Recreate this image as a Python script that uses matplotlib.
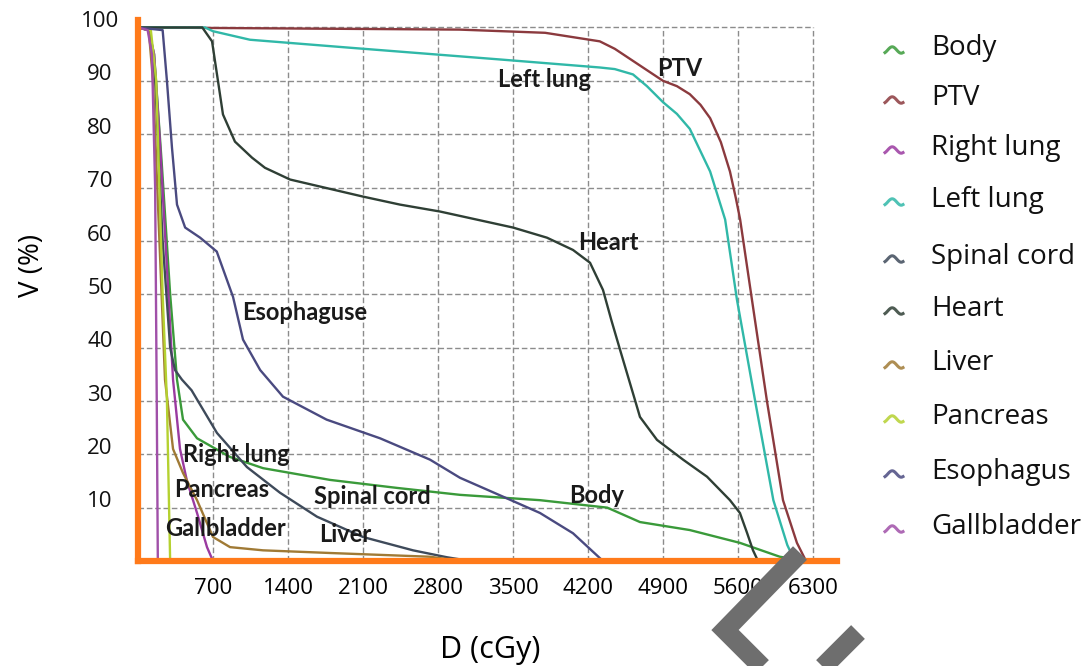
"""DVH chart - cumulative dose-volume histogram of organs"""

import matplotlib
matplotlib.use("Agg")
import matplotlib.pyplot as plt
from matplotlib.lines import Line2D
import numpy as np

W, H = 1089, 666

# ---- data: dose (cGy) and volume (%) ----
BODY_D = [0, 100, 150, 220, 300, 364, 420, 551, 859, 1167, 1792, 2417, 3005, 3752, 4380, 4685, 5150, 5618, 5990, 6240]
BODY_V = [100, 99.5, 95, 75, 50, 34, 26.5, 23, 19.5, 17.4, 15.2, 13.7, 12.4, 11.4, 10, 7.3, 5.8, 3.4, 0.8, 0]

PTV_D = [0, 3000, 3800, 4310, 4450, 4600, 4750, 4900, 5030, 5150, 5250, 5340, 5440, 5525, 5580, 5620,
         5730, 5870, 6020, 6150, 6235]
PTV_V = [100, 99.6, 99, 97.4, 96, 94, 92, 90, 89, 87.5, 85.5, 83, 78.5, 73, 68, 64,
         49, 30, 11.4, 3.4, 0]

RLUNG_D = [0, 100, 150, 200, 270, 327, 392, 457, 551, 644, 700]
RLUNG_V = [100, 99.5, 95, 80, 55, 34, 21, 15, 9, 2.6, 0]

LLUNG_D = [0, 625, 700, 1045, 1980, 3380, 4310, 4450, 4620, 4750, 4900, 5030, 5150, 5340, 5480, 5590,
           5760, 5930, 6060, 6130]
LLUNG_V = [100, 100, 99.3, 97.7, 96.2, 94, 92.5, 92.2, 91.2, 89, 86, 83.8, 81, 73, 64, 49,
           30, 11.4, 3, 0]

CORD_D = [0, 110, 160, 230, 300, 345, 410, 500, 737, 1017, 1325, 1671, 2100, 2567, 2884, 3100]
CORD_V = [100, 99.5, 90, 60, 40, 35.8, 34, 32, 24, 17.6, 12.8, 8.3, 4.5, 2, 0.7, 0]

HEART_D = [0, 600, 691, 747, 793, 905, 1064, 1185, 1419, 2100, 2445, 2819, 3500, 3817, 4060, 4219,
           4340, 4420, 4499, 4638, 4685, 4844, 5087, 5311, 5525, 5618, 5684, 5740, 5787]
HEART_V = [100, 100, 97.4, 89.9, 83.7, 78.6, 75.6, 73.7, 71.5, 68.3, 66.8, 65.5, 62.5, 60.6, 58.3, 55.9,
           50.8, 45, 39.6, 30.2, 27, 22.7, 19, 15.8, 11.4, 9, 5.3, 2, 0]

LIVER_D = [0, 100, 140, 200, 252, 327, 420, 551, 700, 859, 1167, 1792, 2725, 3005]
LIVER_V = [100, 99.5, 90, 60, 34, 21, 16.5, 11.4, 4.5, 2.6, 2, 1.5, 0.8, 0]

PANC_D = [0, 120, 170, 230, 270, 290, 300]
PANC_V = [100, 99.5, 90, 50, 30, 10, 0]

ESO_D = [0, 230, 270, 317, 364, 440, 580, 735, 887, 980, 1140, 1353, 1760, 2259, 2725, 3005, 3425,
         3752, 4060, 4340]
ESO_V = [100, 99.5, 90, 77.5, 66.8, 62.5, 60.6, 58, 49.5, 41.5, 35.8, 30.8, 26.5, 23, 19, 15.6, 11.9,
         9, 5.2, 0]

GALL_D = [0, 90, 130, 160, 175, 185]
GALL_V = [100, 99.5, 95, 70, 30, 0]

NAMES = ["Body", "PTV", "Right lung", "Left lung", "Spinal cord", "Heart", "Liver",
         "Pancreas", "Esophagus", "Gallbladder"]
CURVES = [(BODY_D, BODY_V), (PTV_D, PTV_V), (RLUNG_D, RLUNG_V), (LLUNG_D, LLUNG_V),
          (CORD_D, CORD_V), (HEART_D, HEART_V), (LIVER_D, LIVER_V), (PANC_D, PANC_V),
          (ESO_D, ESO_V), (GALL_D, GALL_V)]
COLORS = ["#3A9A3A", "#8B3A3E", "#9A3AA0", "#30B8A8", "#3E4A5A", "#2F3F35", "#A07A35",
          "#B5D130", "#4A4A80", "#A050A8"]

X_TICKS = [700, 1400, 2100, 2800, 3500, 4200, 4900, 5600, 6300]
Y_TICKS = [10, 20, 30, 40, 50, 60, 70, 80, 90, 100]

# in-plot annotations: (text, dose, volume)
ANNOTATIONS = [("Left lung", 3790, 90.7), ("PTV", 5060, 92.6), ("Heart", 4390, 60),
               ("Esophaguse", 1560, 46.9), ("Right lung", 915, 20.4), ("Pancreas", 785, 13.7),
               ("Gallbladder", 812, 6.4), ("Spinal cord", 2185, 12.4), ("Liver", 1930, 5.4),
               ("Body", 4285, 12.6)]

ORANGE = "#FF7A1A"
GRID = "#8C8C8C"

fig = plt.figure(figsize=(W / 100, H / 100), dpi=100)
ax = fig.add_axes([138 / W, 105 / H, 699 / W, 541 / H])
ax.set_xlim(0, 6524)
ax.set_ylim(0, 101.4)

# grid stops at the last tick
ax.hlines(Y_TICKS, 0, X_TICKS[-1], colors=GRID, linestyles=(0, (4, 2)), linewidth=1, zorder=1)
ax.vlines(X_TICKS, 0, Y_TICKS[-1], colors=GRID, linestyles=(0, (4, 2)), linewidth=1, zorder=1)

for (d, v), c in zip(CURVES, COLORS):
    ax.plot(d, v, color=c, linewidth=1.7, zorder=3, solid_joinstyle="round")

for txt, d, v in ANNOTATIONS:
    ax.text(d, v, txt, ha="center", va="center_baseline", fontsize=17, fontweight="bold",
            family="Lato", color="#1a1a1a", zorder=4)

for side in ["top", "right"]:
    ax.spines[side].set_visible(False)
for side in ["left", "bottom"]:
    ax.spines[side].set_color(ORANGE)
    ax.spines[side].set_linewidth(4.5)
    ax.spines[side].set_zorder(5)

ax.set_xticks(X_TICKS)
ax.set_yticks(Y_TICKS)
ax.set_yticklabels([])
ax.tick_params(length=0)
ax.tick_params(axis="x", pad=12, labelsize=16)
for lab in ax.get_xticklabels():
    lab.set_family("Open Sans")

# y tick labels, centred left of the axis and sitting a bit above the grid lines
ytr = ax.get_yaxis_transform()
for v in Y_TICKS:
    ax.text(-38 / 699, v + 1.1, str(v), transform=ytr, ha="center", va="center",
            fontsize=16, family="Open Sans", color="#111111")

fig.text(32 / W, 1 - 265 / H, "V (%)", rotation=90, ha="center", va="center",
         fontsize=20, family="Open Sans")
fig.text(490 / W, 1 - 650 / H, "D (cGy)", ha="center", va="center",
         fontsize=22, family="Open Sans")

# legend drawn by hand, small wave icons
LEGEND_Y = [48, 98, 148, 200, 257, 309, 363, 417, 472, 527]
t = np.linspace(0, 1, 30)
for name, c, yp in zip(NAMES, COLORS, LEGEND_Y):
    wx = (885 + 18 * t) / W
    wy = 1 - (yp + 2 - 3.2 * np.sin(2 * np.pi * (t - 0.15))) / H
    fig.add_artist(Line2D(wx, wy, color=c, linewidth=2.2, alpha=0.85))
    fig.text(931 / W, 1 - yp / H, name, ha="left", va="center", fontsize=20,
             family="Open Sans", color="#111111")

# grey chevron mark at bottom right
def px(xs, ys):
    return [x / W for x in xs], [1 - y / H for y in ys]

for xs, ys in [([800, 725, 785], [553, 630, 690]), ([858, 800], [632, 690])]:
    lx, ly = px(xs, ys)
    fig.add_artist(Line2D(lx, ly, color="#6E6E6E", linewidth=14, solid_capstyle="butt",
                          solid_joinstyle="miter", zorder=10))

fig.savefig("out.png", dpi=100)
plt.close(fig)
